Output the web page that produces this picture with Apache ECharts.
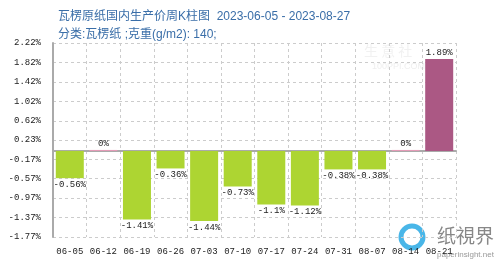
<!DOCTYPE html>
<html><head><meta charset="utf-8">
<script src="https://cdn.jsdelivr.net/npm/echarts@6/dist/echarts.min.js"></script>
<style>html,body{margin:0;padding:0;background:#fff}#c{width:500px;height:264px}</style>
</head><body><div id="c"></div>
<script>
var categories = ['06-05','06-12','06-19','06-26','07-03','07-10','07-17','07-24','07-31','08-07','08-14','08-21'];
var values = [-0.56, 0, -1.41, -0.36, -1.44, -0.73, -1.1, -1.12, -0.38, -0.38, 0, 1.89];
var yTicks = [-1.77, -1.37, -0.97, -0.57, -0.17, 0.23, 0.62, 1.02, 1.42, 1.82, 2.22];
var titleText = '瓦楞原纸国内生产价周K柱图  2023-06-05 - 2023-08-27';
var subText = '分类:瓦楞纸 ;克重(g/m2): 140;';

var GREEN = '#add532', PINK = '#ab5884';
var chart = echarts.init(document.getElementById('c'), null, {renderer:'canvas'});
var font = 'Liberation Mono, monospace';
chart.setOption({
  animation:false,
  title:{text:titleText, subtext:subText, left:53, top:6, itemGap:6,
    textStyle:{fontSize:12, fontWeight:'normal', color:'#3a6ea8', fontFamily:'Liberation Sans, Noto Sans CJK SC'},
    subtextStyle:{fontSize:12, color:'#3a6ea8', fontFamily:'Liberation Sans, Noto Sans CJK SC'}},
  grid:{left:53, right:44, top:43, bottom:27},
  xAxis:{type:'category', data:categories,
    axisLine:{lineStyle:{color:'#aaa', width:2}},
    axisTick:{show:false},
    axisLabel:{color:'#222', fontSize:9, fontFamily:font, margin:10, interval:0},
    splitLine:{show:true, interval:0, lineStyle:{type:[3,3], color:'#ccc'}}},
  yAxis:{type:'value', min:-1.77, max:2.22,
    axisLine:{show:true, lineStyle:{color:'#aaa', width:2}},
    axisTick:{show:false, customValues:yTicks},
    axisLabel:{customValues:yTicks, color:'#222', fontSize:9, fontFamily:font, margin:12,
      formatter:function(v){return v.toFixed(2)+'%';}},
    splitLine:{show:true, lineStyle:{type:[3,3], color:'#ccc'}}},
  series:[{type:'bar', barWidth:28, barMinHeight:1,
    data:values.map(function(v){return {value:v,
      itemStyle:{color: v>0 ? PINK : (v<0 ? GREEN : '#e89ab8')},
      label:{position: v<0 ? 'bottom' : 'top'}};}),
    label:{show:true, color:'#222', fontSize:9, fontFamily:font, distance:2,
      formatter:function(p){return p.value+'%';}}
  }],
  graphic:[
    {type:'text', left:364, top:44, style:{text:'生 意 社', fontSize:14, fill:'rgba(200,200,200,0.25)', fontFamily:'Noto Sans CJK SC'}},
    {type:'text', left:372, top:62, style:{text:'100PPI.COM', fontSize:9, fill:'rgba(200,200,200,0.3)', fontFamily:'Liberation Sans'}},
    {type:'circle', shape:{cx:412, cy:237, r:11}, style:{fill:'none', stroke:'#49b6e8', lineWidth:5}},
    {type:'text', left:437, top:226, style:{text:'纸視界', fontSize:19, fill:'#888', fontFamily:'Noto Sans CJK SC'}},
    {type:'text', left:437, top:251, style:{text:'paperinsight.net', fontSize:8, fill:'#999', fontFamily:'Liberation Sans'}}
  ]
});
</script></body></html>
